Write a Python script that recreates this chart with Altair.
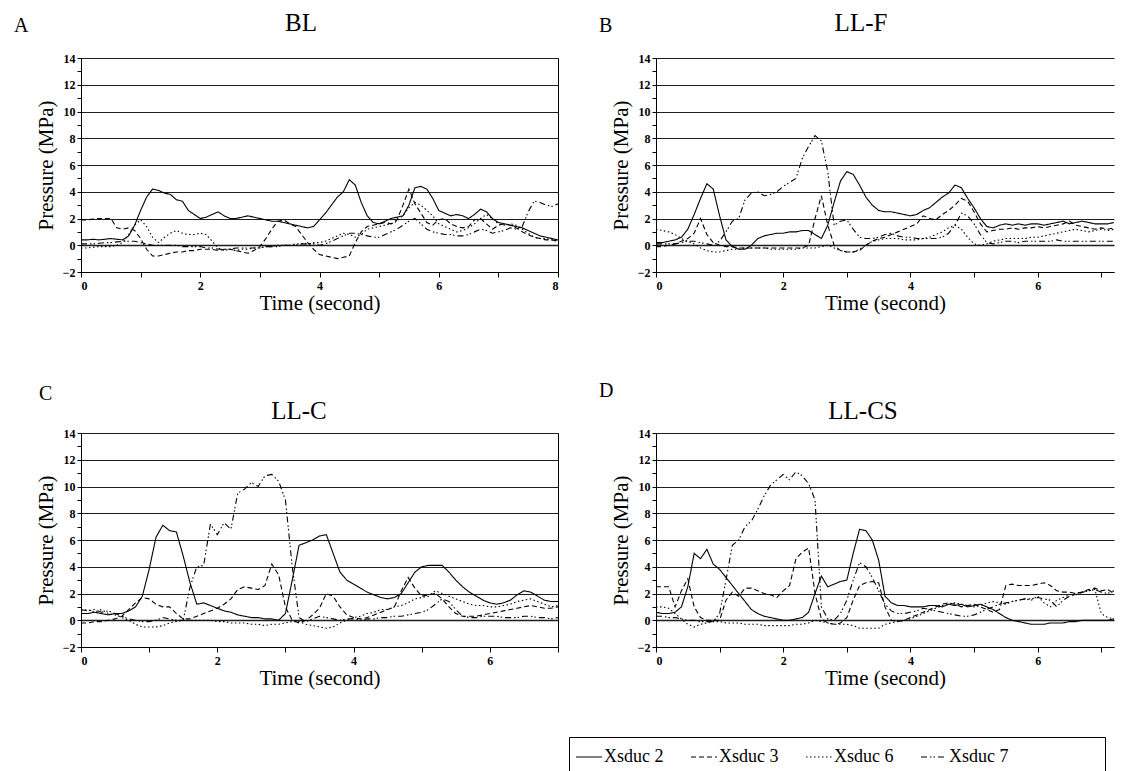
import altair as alt
import pandas as pd

FONT = "Liberation Serif"
SERIES = ["Xsduc 2", "Xsduc 3", "Xsduc 6", "Xsduc 7"]
DASHES = [[1, 0], [5, 3], [1.5, 2.5], [6, 3, 1.5, 2, 1.5, 3]]
STEP = 0.1  # sampling interval of the traces (s)

# ---- Panel A : BL (t = 0 .. 8 s) ----
A_s2 = [0.4,0.4,0.45,0.4,0.45,0.5,0.45,0.4, 0.7,1.5,2.6,3.6,4.2,4.1, 3.9,3.8,3.4,3.3,2.6,2.3,2.0,
        2.1,2.3,2.5,2.2,2.0,2.0,2.1,2.2,2.1, 2.0,1.9,1.8,1.8,1.7,1.6,1.5,1.4,1.3,1.4,
        1.9,2.4,3.0,3.6,4.0,4.9,4.5,3.2,2.2,1.7, 1.6,1.8,2.0,2.1,2.2,3.0,4.3,4.4,4.2,3.5,
        2.6,2.4,2.2,2.3,2.2,2.0,2.3,2.7,2.5,2.0, 1.7,1.6,1.5,1.4,1.3,1.1,0.9,0.7,0.6,0.5,0.4]
A_d3 = [1.9,1.9,1.95,2.0,2.0,2.0, 1.3,1.2,1.3,1.1,0.5, -0.3,-0.8,-0.8,-0.7,-0.6,-0.5,-0.5,-0.4,-0.4,
        -0.3,-0.3,-0.3,-0.4,-0.3,-0.3,-0.4,-0.5,-0.6,-0.4, -0.1,0.5,1.2,1.8,1.9,1.6,1.4,0.8,0.2,-0.3,
        -0.7,-0.8,-0.9,-1.0,-0.9,-0.8,0.2,1.0,1.4,1.5, 1.6,1.7,1.6,1.9,3.0,4.2,3.1,2.4,1.7,1.5,
        1.9,2.0,1.6,1.4,1.3,1.4,1.9,2.0,1.6,1.2, 1.5,1.6,1.5,1.3,1.0,0.8,0.6,0.5,0.4,0.4,0.3]
A_d6 = [-0.2,-0.2,-0.15,-0.1,-0.1,-0.1,0.0,0.2, 0.8,1.5,1.9,1.4,0.6,0.2, 0.6,0.9,1.1,0.9,0.8,0.8,0.9,
        0.8,0.3,-0.2,-0.4,-0.3,-0.4,-0.3,-0.3,-0.2, -0.2,-0.1,-0.1,0.0,0.0,0.0,0.1,0.1,0.1,0.2,
        0.2,0.3,0.5,0.7,0.9,0.8,0.6,0.8,1.2,1.3, 1.4,1.5,1.6,1.8,2.2,2.8,3.2,3.0,2.6,2.2,
        1.6,1.4,1.2,1.0,1.1,1.3,1.6,2.0,2.3,2.0, 1.6,1.5,1.6,1.5,1.2,0.9,0.6,0.5,0.5,0.4,0.4]
A_d7 = [0.1,0.1,0.1,0.15,0.2,0.2,0.25,0.3, 0.3,0.3,0.2,0.1,0.0,0.0, 0.0,0.0,0.0,-0.1,-0.1,-0.1,-0.1,
        -0.2,-0.2,-0.3,-0.3,-0.3,-0.2,-0.2,-0.2,-0.2, -0.2,-0.1,-0.1,-0.1,0.0,0.0,0.0,0.1,0.1,0.1,
        0.0,0.1,0.3,0.5,0.7,0.9,0.9,0.8,0.7,0.6, 0.6,0.8,1.0,1.2,1.5,1.8,2.0,1.6,1.2,1.0,
        0.9,0.8,0.8,0.7,0.7,0.8,1.0,1.2,1.1,0.9, 1.0,1.1,1.3,1.2,1.4,2.5,3.3,3.2,3.0,2.9,3.1]

# ---- Panel B : LL-F ----
B_s2 = [0.2,0.2,0.3,0.4,0.6,1.2,2.3,3.5,4.6,4.2, 2.2,0.4,-0.1,-0.3,-0.3,0.0,0.5,0.7,0.8,0.9,
        0.9,1.0,1.0,1.1,1.1,0.8,0.5,1.5,3.2,4.8, 5.5,5.3,4.5,3.6,3.0,2.6,2.5,2.5,2.4,2.3,
        2.2,2.3,2.6,2.8,3.2,3.6,3.9,4.5,4.3,3.5, 2.8,2.0,1.4,1.3,1.5,1.6,1.5,1.6,1.5,1.6,
        1.6,1.5,1.6,1.7,1.8,1.6,1.7,1.8,1.7,1.6,1.6,1.6,1.7]
B_d3 = [-0.1,-0.1,0.0,0.1,0.3,0.5,0.9,2.0,0.8,0.2, 0.0,-0.1,-0.1,-0.2,-0.2,-0.2,-0.2,-0.2,-0.2,-0.2,
        -0.2,-0.2,-0.2,-0.2,0.0,2.0,3.7,1.5,0.0,-0.4, -0.5,-0.5,-0.4,0.0,0.3,0.5,0.6,0.8,1.0,1.2,
        1.4,1.6,2.2,2.0,1.9,2.3,2.6,3.0,3.5,3.3, 2.5,1.6,1.0,1.1,1.2,1.2,1.3,1.2,1.3,1.3,
        1.4,1.3,1.4,1.5,1.6,1.8,1.5,1.4,1.3,1.2,1.3,1.2,1.3]
B_d6 = [1.2,1.1,1.0,0.8,0.5,0.3,0.1,-0.2,-0.4,-0.5, -0.5,-0.4,-0.3,-0.3,-0.2,-0.2,-0.2,-0.2,-0.3,-0.3,
        -0.3,-0.3,-0.3,-0.2,-0.2,-0.2,-0.1,0.0,-0.2,-0.4, -0.5,-0.5,-0.3,0.0,0.3,0.4,0.5,0.5,0.5,0.4,
        0.4,0.4,0.5,0.6,0.8,1.0,1.3,1.5,1.2,0.6, 0.1,0.0,0.1,0.3,0.4,0.5,0.5,0.5,0.5,0.6,
        0.6,0.7,0.8,0.9,1.0,1.1,1.2,1.1,1.0,1.1,1.2,1.1,1.2]
B_d7 = [0.1,0.1,0.1,0.1,0.2,0.3,0.3,0.2,0.1,0.0, 0.3,1.0,1.8,2.0,3.4,3.9,4.0,3.7,3.8,4.0,
        4.4,4.7,5.0,6.5,7.4,8.2,7.8,5.5,1.5,1.8, 1.9,1.2,0.6,0.5,0.5,0.6,0.8,0.9,0.7,0.6,
        0.6,0.5,0.5,0.5,0.5,0.6,0.9,1.5,2.4,2.2, 1.6,0.8,0.2,0.1,0.2,0.3,0.3,0.2,0.3,0.3,
        0.3,0.3,0.3,0.4,0.3,0.3,0.3,0.3,0.3,0.3,0.3,0.3,0.3]

# ---- Panel C : LL-C ----
C_s2 = [0.5,0.5,0.6,0.5,0.4,0.5,0.5,0.7,1.0,1.8, 3.8,6.2,7.1,6.7,6.6,4.8,2.8,1.2,1.3,1.1,
        0.9,0.7,0.6,0.4,0.3,0.2,0.2,0.1,0.1,0.0, 0.5,3.0,5.6,5.8,6.0,6.3,6.4,5.0,3.6,3.0,
        2.7,2.4,2.1,1.9,1.7,1.6,1.7,2.0,2.8,3.6, 4.0,4.1,4.1,4.1,3.6,3.0,2.5,2.1,1.8,1.5,
        1.3,1.2,1.3,1.5,1.9,2.2,2.1,1.8,1.5,1.4,1.4]
C_d3 = [-0.2,-0.2,-0.1,-0.1,0.0,0.1,0.3,0.8,1.3,1.7, 1.6,1.2,1.0,1.0,0.5,0.1,0.1,0.3,0.5,0.7,
        0.9,1.2,1.6,2.3,2.5,2.4,2.3,2.6,4.2,3.4, 1.0,0.0,-0.2,0.0,0.4,0.9,2.0,1.8,1.0,0.4,
        0.2,0.1,0.2,0.4,0.6,0.8,1.0,2.2,3.2,2.4, 1.8,1.9,2.0,1.6,1.0,0.5,0.3,0.3,0.3,0.4,
        0.5,0.6,0.7,0.8,0.9,1.0,1.1,1.0,0.9,0.9,1.0]
C_d6 = [0.7,0.8,0.6,0.8,0.5,0.4,0.2,0.0,-0.3,-0.5, -0.5,-0.5,-0.4,-0.2,-0.1,0.0,0.0,0.0,0.0,0.0,
        -0.1,-0.1,-0.2,-0.2,-0.2,-0.3,-0.3,-0.4,-0.3,-0.3, -0.2,-0.1,-0.1,-0.3,-0.4,-0.5,-0.6,-0.5,-0.2,0.0,
        0.2,0.3,0.5,0.6,0.8,0.8,1.0,1.1,1.3,1.6, 1.7,1.8,2.2,2.0,1.8,1.6,1.4,1.2,1.1,1.1,
        1.0,1.0,1.1,1.2,1.4,1.5,1.6,1.4,1.2,1.0,1.1]
C_d7 = [0.8,0.7,0.8,0.6,0.7,0.5,0.3,0.1,0.0,-0.1, -0.1,0.0,0.2,0.1,0.0,0.0,2.5,4.0,4.1,7.2,
        6.4,7.3,6.8,9.5,9.8,10.3,10.0,10.8,10.9,10.4, 9.0,4.0,0.2,-0.1,0.1,0.3,0.2,0.1,0.0,0.1,
        0.1,0.0,0.1,0.1,0.2,0.2,0.3,0.3,0.4,0.5, 0.6,0.8,1.2,1.6,1.4,0.8,0.3,0.2,0.2,0.3,
        0.3,0.3,0.2,0.2,0.2,0.3,0.3,0.2,0.2,0.1,0.2]

# ---- Panel D : LL-CS ----
D_s2 = [0.6,0.5,0.5,0.6,1.0,2.5,5.0,4.6,5.3,4.2, 3.8,3.2,2.6,2.0,1.4,0.8,0.5,0.3,0.2,0.1,
        0.0,0.0,0.1,0.2,0.6,2.0,3.3,2.5,2.7,2.9, 3.0,5.0,6.8,6.7,6.0,4.5,1.8,1.3,1.1,1.1,
        1.0,1.0,1.0,1.1,1.1,1.0,1.2,1.1,1.2,1.0, 1.1,1.2,1.0,0.8,0.5,0.2,0.0,-0.1,-0.2,-0.3,
        -0.3,-0.3,-0.2,-0.2,-0.2,-0.1,-0.1,0.0,0.0,0.0,0.0,0.0,0.1]
D_d3 = [2.5,2.5,2.5,1.0,2.2,3.1,1.0,0.2,0.0,0.0, 0.0,1.5,2.1,1.8,2.4,2.4,2.2,2.0,1.9,1.7,
        2.2,2.6,4.6,5.1,5.4,2.0,0.1,-0.2,-0.3,-0.2, 0.2,1.5,2.6,2.8,2.9,2.8,1.0,0.0,-0.1,0.0,
        0.2,0.4,0.6,0.8,1.0,1.2,1.3,1.2,1.0,1.1, 1.2,1.0,0.8,0.6,0.8,2.6,2.7,2.6,2.6,2.6,
        2.7,2.8,2.6,2.2,2.1,2.1,2.0,2.1,2.3,2.4,2.2,2.3,2.0]
D_d6 = [1.0,1.0,0.9,0.5,0.1,-0.3,-0.5,-0.3,-0.2,-0.1, -0.1,-0.2,-0.2,-0.2,-0.3,-0.3,-0.3,-0.4,-0.4,-0.4,
        -0.4,-0.4,-0.3,-0.3,-0.2,0.0,-0.1,-0.2,-0.3,-0.3, -0.3,-0.4,-0.6,-0.6,-0.6,-0.6,-0.3,-0.2,-0.1,0.0,
        0.1,0.3,0.5,0.7,0.9,1.1,1.2,1.3,1.2,1.1, 1.0,1.1,1.3,1.4,1.3,1.2,1.4,1.5,1.6,1.5,
        1.8,1.3,1.0,1.5,1.7,1.9,2.0,2.1,2.2,2.3,0.5,0.2,0.1]
D_d7 = [0.3,0.3,0.2,0.2,0.1,0.0,0.0,-0.1,-0.1,-0.1, 0.5,3.0,5.6,6.0,7.0,7.4,8.3,9.3,10.1,10.5,
        10.9,10.5,11.1,10.8,10.2,9.0,1.0,0.1,0.0,0.5, 1.5,3.0,4.3,4.0,3.2,2.2,1.2,0.7,0.5,0.5,
        0.6,0.7,0.9,0.8,0.7,0.6,0.5,0.4,0.3,0.3, 0.4,0.6,0.8,1.0,1.2,1.3,1.4,1.5,1.6,1.6,
        1.7,1.6,1.5,1.0,1.5,1.8,1.9,2.1,2.2,2.3,2.1,2.0,2.2]

EVEN = "datum.value % 2 === 0 ? datum.label : ''"
PAD7 = "\u2003" * 5 + "\u200b"


def frame(series_lists):
    rows = []
    for name, vals in zip(SERIES, series_lists):
        for i, v in enumerate(vals):
            rows.append({"t": round(i * STEP, 2), "p": v, "s": name})
    return pd.DataFrame(rows)


LEGEND = alt.Legend(
    title=None, orient="none", legendX=488, legendY=679, direction="horizontal",
    symbolType="stroke", symbolSize=676, symbolStrokeWidth=1.2, symbolStrokeColor="black",
    labelFont=FONT, labelFontSize=18, labelFontWeight="normal", labelColor="black",
    labelOffset=1, labelLimit=400,
    columnPadding=24, padding=6, strokeColor="black", fillColor="white",
    labelExpr="datum.value == 'Xsduc 7' ? datum.label + '" + PAD7 + "' : datum.label",
)


def panel(series_lists, name, letter, xmax, width, lpos, npos, right_frame):
    df = frame(series_lists)
    lines = alt.Chart(df).mark_line(color="black", strokeWidth=1.1, clip=True).encode(
        x=alt.X("t:Q", scale=alt.Scale(domain=[0, xmax], nice=False, zero=False),
                axis=alt.Axis(values=list(range(0, int(xmax) + 1)), labelExpr=EVEN,
                              title="Time (second)", grid=False, tickSize=5,
                              labelPadding=3, titlePadding=1,
                              labelFont=FONT, titleFont=FONT, labelFontSize=12,
                              labelFontWeight="bold", titleFontSize=21, titleFontWeight="normal")),
        y=alt.Y("p:Q", scale=alt.Scale(domain=[-2, 14], nice=False),
                axis=alt.Axis(values=list(range(-2, 15)), labelExpr=EVEN,
                              title="Pressure (MPa)", tickSize=4, labelPadding=2,
                              titlePadding=6, grid=True, gridColor="#1e1e1e",
                              labelFont=FONT, titleFont=FONT, labelFontSize=12,
                              labelFontWeight="bold", titleFontSize=21, titleFontWeight="normal",
                              gridOpacity={"condition": {"test": "datum.value % 2 === 0", "value": 1}, "value": 0},
                              gridWidth={"condition": {"test": "datum.value === 0", "value": 1.6}, "value": 1})),
        strokeDash=alt.StrokeDash("s:N", scale=alt.Scale(domain=SERIES, range=DASHES), legend=LEGEND),
    )
    letter_mark = alt.Chart(pd.DataFrame({"txt": [letter]})).mark_text(
        align="left", baseline="middle", fontSize=20, font=FONT, color="black"
    ).encode(text="txt:N", x=alt.value(lpos[0]), y=alt.value(lpos[1]))
    name_mark = alt.Chart(pd.DataFrame({"txt": [name]})).mark_text(
        align="center", baseline="middle", fontSize=25, font=FONT, color="black"
    ).encode(text="txt:N", x=alt.value(npos[0]), y=alt.value(npos[1]))
    return alt.layer(lines, letter_mark, name_mark).properties(
        width=width, height=214,
        view=alt.ViewBackground(stroke="black" if right_frame else "transparent", strokeWidth=1),
    )


pA = panel([A_s2, A_d3, A_d6, A_d7], "BL", "A", 8, 477, (-67, -32), (220, -35), True)
pB = panel([B_s2, B_d3, B_d6, B_d7], "LL-F", "B", 7.2, 458, (-57, -32), (205, -35), False)
pC = panel([C_s2, C_d3, C_d6, C_d7], "LL-C", "C", 7, 477, (-42, -39), (218, -22), True)
pD = panel([D_s2, D_d3, D_d6, D_d7], "LL-CS", "D", 7.2, 458, (-57, -42), (207, -22), False)

chart = alt.concat(
    pA, pB, pC, pD, columns=2, spacing={"row": 161, "column": 98}, bounds="flush"
).resolve_scale(strokeDash="shared").properties(
    padding={"left": 5, "top": 2, "right": 0, "bottom": 0}
).configure(
    font=FONT, background="white",
    style={
        "guide-label": {"font": FONT},
        "guide-title": {"font": FONT},
    },
).configure_axis(
    labelFont=FONT, titleFont=FONT, labelColor="black", titleColor="black",
    domainColor="black", tickColor="black", domainWidth=1
).configure_legend(
    labelFont=FONT, labelFontSize=18
).configure_view(stroke="transparent")

chart.save("out.html", embed_options={"renderer": "svg", "actions": False})
